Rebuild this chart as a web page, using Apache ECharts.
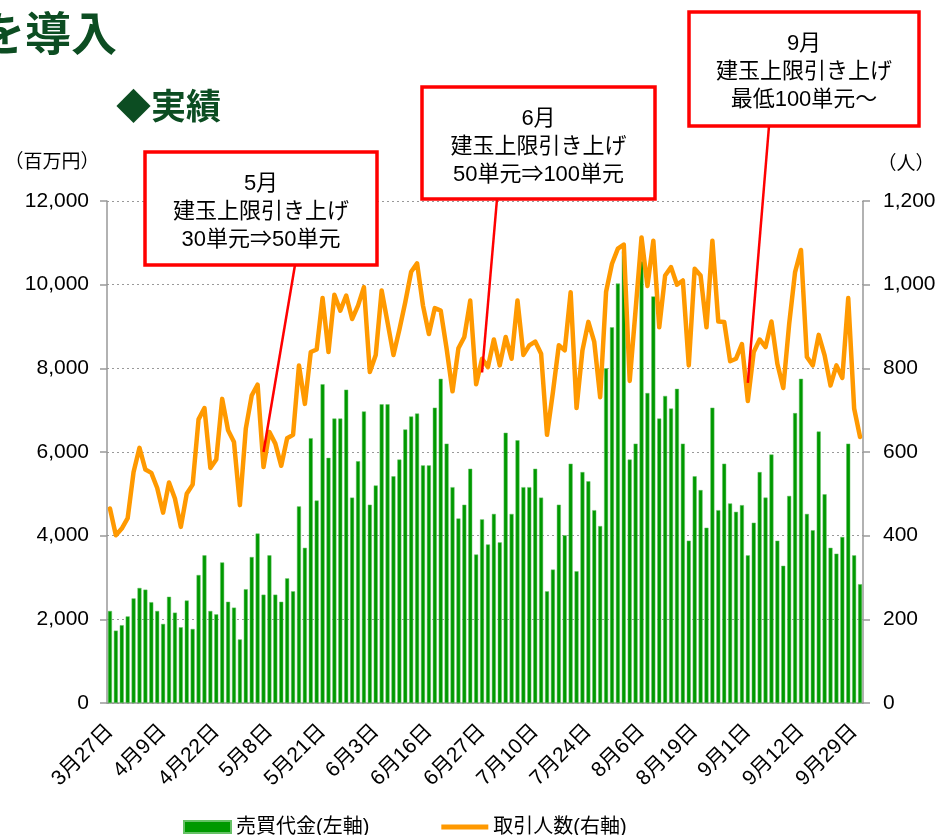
<!DOCTYPE html>
<html>
<head>
<meta charset="utf-8">
<script src="https://cdn.jsdelivr.net/npm/echarts@6/dist/echarts.min.js"></script>
<style>
  html, body { margin: 0; padding: 0; background: #fff; }
  #chart { width: 942px; height: 835px; }
</style>
</head>
<body>
<div id="chart"></div>
<script>
// 営業日（2008年3月27日〜9月30日）
const dates = [
  '3月27日','3月28日','3月31日',
  '4月1日','4月2日','4月3日','4月4日','4月7日','4月8日','4月9日','4月10日','4月11日',
  '4月14日','4月15日','4月16日','4月17日','4月18日','4月21日','4月22日','4月23日','4月24日','4月25日',
  '4月28日','4月30日',
  '5月1日','5月2日','5月7日','5月8日','5月9日','5月12日','5月13日','5月14日','5月15日','5月16日',
  '5月19日','5月20日','5月21日','5月22日','5月23日','5月26日','5月27日','5月28日','5月29日','5月30日',
  '6月2日','6月3日','6月4日','6月5日','6月6日','6月9日','6月10日','6月11日','6月12日','6月13日',
  '6月16日','6月17日','6月18日','6月19日','6月20日','6月23日','6月24日','6月25日','6月26日','6月27日',
  '6月30日',
  '7月1日','7月2日','7月3日','7月4日','7月7日','7月8日','7月9日','7月10日','7月11日',
  '7月14日','7月15日','7月16日','7月17日','7月18日','7月22日','7月23日','7月24日','7月25日',
  '7月28日','7月29日','7月30日','7月31日',
  '8月1日','8月4日','8月5日','8月6日','8月7日','8月8日','8月11日','8月12日','8月13日','8月14日','8月15日',
  '8月18日','8月19日','8月20日','8月21日','8月22日','8月25日','8月26日','8月27日','8月28日','8月29日',
  '9月1日','9月2日','9月3日','9月4日','9月5日','9月8日','9月9日','9月10日','9月11日','9月12日',
  '9月16日','9月17日','9月18日','9月19日','9月22日','9月24日','9月25日','9月26日','9月29日','9月30日'
];

// 売買代金（百万円・左軸）
const tradeValue = [
  2200, 1730, 1860, 2070, 2500, 2750, 2710, 2410, 2200, 1890,
  2540, 2160, 1810, 2450, 1770, 3060, 3530, 2200, 2120, 3360,
  2420, 2280, 1520, 2720, 3490, 4050, 2590, 3530, 2590, 2420,
  2980, 2670, 4700, 3710, 6330, 4840, 7620, 5860, 6800, 6800,
  7490, 4910, 5780, 6970, 4740, 5200, 7140, 7140, 5420, 5820,
  6540, 6850, 6920, 5680, 5680, 7060, 7750, 6200, 5160, 4410,
  4740, 5600, 3550, 4390, 3790, 4520, 3840, 6460, 4520, 6280,
  5160, 5160, 5600, 4910, 2670, 3190, 4740, 4010, 5720, 3150,
  5520, 5300, 4610, 4230, 8000, 8980, 10030, 10800, 5820, 6200,
  10560, 7410, 9720, 6800, 7340, 7040, 7510, 6200, 3880, 5420,
  5090, 4190, 7060, 4610, 5720, 4770, 4570, 4730, 3530, 4310,
  5520, 4910, 5940, 3880, 3280, 4950, 6930, 7750, 4520, 4130,
  6490, 4990, 3710, 3570, 3970, 6200, 3530, 2840
];

// 取引人数（人・右軸）
const traders = [
  465, 401, 417, 442, 552, 610, 558, 550, 514, 455,
  527, 489, 421, 500, 522, 678, 705, 562, 582, 727,
  652, 624, 473, 656, 735, 761, 564, 648, 620, 567,
  633, 641, 807, 715, 839, 845, 968, 839, 976, 938,
  974, 918, 950, 994, 791, 832, 986, 910, 832, 892,
  958, 1031, 1051, 950, 882, 944, 938, 847, 745, 848,
  875, 962, 762, 823, 803, 869, 807, 875, 823, 962,
  832, 855, 864, 835, 641, 743, 855, 843, 982, 705,
  843, 911, 863, 731, 983, 1050, 1086, 1096, 770, 940,
  1113, 997, 1105, 898, 1022, 1042, 1000, 1010, 807, 1038,
  1022, 898, 1105, 912, 911, 817, 823, 858, 722, 839,
  869, 851, 912, 811, 753, 906, 1030, 1083, 827, 807,
  880, 831, 759, 807, 777, 968, 704, 636
];

const seriesNames = ['売買代金(左軸)', '取引人数(右軸)'];

// 吹き出し
const notes = [
  { lines: ['5月', '建玉上限引き上げ', '30単元⇒50単元'], box: [145, 152, 232, 113], from: [295, 265], idx: 26, val: 600 },
  { lines: ['6月', '建玉上限引き上げ', '50単元⇒100単元'], box: [422, 87, 233, 112], from: [497, 199], idx: 63, val: 790 },
  { lines: ['9月', '建玉上限引き上げ', '最低100単元〜'], box: [689, 12, 230, 114], from: [769, 126], idx: 108, val: 765 }
];

const FONT = "'Liberation Sans', 'Noto Sans CJK JP', sans-serif";
const GREEN_DARK = '#0c4d22';

const chart = echarts.init(document.getElementById('chart'));

chart.setOption({
  animation: false,
  textStyle: { fontFamily: FONT, color: '#000' },
  grid: { left: 107, right: 79, top: 201, bottom: 132 },
  legend: {
    left: 183,
    top: 817,
    padding: 0,
    itemWidth: 47,
    itemHeight: 12,
    itemGap: 72,
    textStyle: { fontSize: 20, color: '#000', fontFamily: FONT },
    data: [
      { name: seriesNames[0], icon: 'rect' },
      { name: seriesNames[1], icon: 'path://M0,0 L47,0 L47,5 L0,5 Z' }
    ]
  },
  xAxis: {
    type: 'category',
    data: dates,
    boundaryGap: true,
    axisLine: { lineStyle: { color: '#999', width: 1.5 } },
    axisTick: { interval: 8, length: 5, lineStyle: { color: '#999', width: 1.5 } },
    axisLabel: { interval: 8, rotate: 45, fontSize: 21, margin: 25, color: '#000' }
  },
  yAxis: [
    {
      type: 'value',
      min: 0, max: 12000, interval: 2000,
      axisLine: { show: true, lineStyle: { color: '#999', width: 1.5 } },
      axisTick: { show: true, length: 7, lineStyle: { color: '#999', width: 1.5 } },
      axisLabel: {
        fontSize: 21, margin: 18, color: '#000',
        formatter: v => v.toLocaleString('en-US')
      },
      splitLine: { lineStyle: { color: '#999', type: [2, 3], width: 1 } }
    },
    {
      type: 'value',
      min: 0, max: 1200, interval: 200,
      axisLine: { show: true, lineStyle: { color: '#999', width: 1.5 } },
      axisTick: { show: true, length: 7, lineStyle: { color: '#999', width: 1.5 } },
      axisLabel: {
        fontSize: 21, margin: 20, color: '#000',
        formatter: v => v.toLocaleString('en-US')
      },
      splitLine: { show: false }
    }
  ],
  series: [
    {
      name: seriesNames[0],
      type: 'bar',
      yAxisIndex: 0,
      data: tradeValue,
      barWidth: '68%',
      itemStyle: { color: '#009900', borderColor: '#66c266', borderWidth: 0.5 }
    },
    {
      name: seriesNames[1],
      type: 'line',
      yAxisIndex: 1,
      data: traders,
      symbol: 'none',
      lineStyle: { color: '#ff9900', width: 4.5, join: 'round', cap: 'round' },
      itemStyle: { color: '#ff9900' },
      z: 3
    }
  ]
});

// 見出し・単位・吹き出し
const graphics = [
  {
    type: 'text', x: 117, y: 33,
    style: { text: 'を導入', font: "bold 46px 'Noto Sans CJK JP'", fill: GREEN_DARK, align: 'right', verticalAlign: 'middle' }
  },
  {
    type: 'text', x: 116, y: 106,
    style: { text: '◆実績', font: "bold 35px 'Noto Sans CJK JP'", fill: GREEN_DARK, align: 'left', verticalAlign: 'middle' }
  },
  {
    type: 'text', x: 52, y: 161,
    style: { text: '（百万円）', font: "19px 'Noto Sans CJK JP'", fill: '#000', align: 'center', verticalAlign: 'middle' }
  },
  {
    type: 'text', x: 906, y: 163,
    style: { text: '（人）', font: "19px 'Noto Sans CJK JP'", fill: '#000', align: 'center', verticalAlign: 'middle' }
  }
];

notes.forEach(n => {
  const [bx, by, bw, bh] = n.box;
  const end = chart.convertToPixel({ xAxisIndex: 0, yAxisIndex: 1 }, [n.idx, n.val]);
  graphics.push({
    type: 'line', z: 100,
    shape: { x1: n.from[0], y1: n.from[1], x2: end[0], y2: end[1] },
    style: { stroke: '#ff0000', lineWidth: 2.5 }
  });
  graphics.push({
    type: 'rect', z: 100,
    shape: { x: bx, y: by, width: bw, height: bh },
    style: { fill: '#fff', stroke: '#ff0000', lineWidth: 3.5 }
  });
  n.lines.forEach((t, k) => {
    graphics.push({
      type: 'text', z: 101,
      x: bx + bw / 2, y: by + 32 + k * 28,
      style: { text: t, font: "22px " + FONT, fill: '#000', align: 'center', verticalAlign: 'middle' }
    });
  });
});

chart.setOption({ graphic: graphics });
</script>
</body>
</html>
